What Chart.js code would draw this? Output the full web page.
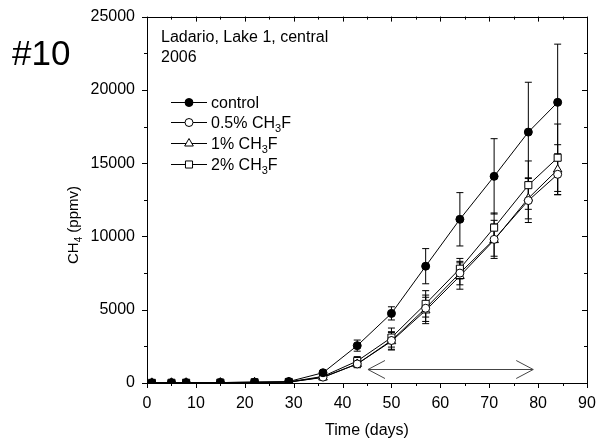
<!DOCTYPE html>
<html>
<head>
<meta charset="utf-8">
<script src="https://cdn.jsdelivr.net/npm/chart.js@4.4.0/dist/chart.umd.min.js"></script>
<style>
  html, body { margin: 0; padding: 0; background: #fff; }
</style>
</head>
<body>
<canvas id="c" width="598" height="441"></canvas>
<script>
// sampling days
const days = [1, 5, 8, 15, 22, 29, 36, 43, 50, 57, 64, 71, 78, 84];

// CH4 (ppmv)
const control   = [10, 15, 20, 30, 50, 100, 700, 2550, 4750, 7970, 11170, 14100, 17120, 19150];
const ch3f05    = [10, 15, 20, 30, 50, 60, 400, 1300, 2900, 5100, 7500, 9800, 12450, 14240];
const ch3f1     = [10, 15, 20, 30, 50, 60, 380, 1300, 2850, 4950, 7300, 9750, 12600, 14560];
const ch3f2     = [10, 15, 20, 30, 50, 70, 450, 1500, 3100, 5400, 7800, 10600, 13500, 15370];

// error bars (+/-)
const controlErr = [0, 0, 0, 0, 0, 30, 150, 380, 450, 1200, 1820, 2570, 3400, 3970];
const ch3f05Err  = [0, 0, 0, 0, 0, 20, 80, 250, 600, 900, 800, 1300, 1500, 1400];
const ch3f1Err   = [0, 0, 0, 0, 0, 20, 80, 250, 600, 900, 900, 1100, 1400, 1700];
const ch3f2Err   = [0, 0, 0, 0, 0, 20, 100, 300, 650, 900, 700, 1000, 1650, 2300];

const xTicks = [0, 10, 20, 30, 40, 50, 60, 70, 80, 90];
const yTicks = [0, 5000, 10000, 15000, 20000, 25000];

// treatment period arrow (days) and its height (ppmv)
const arrowFrom = 45.2, arrowTo = 79, arrowLevel = 950;

const FONT = '"Liberation Sans", Arial, sans-serif';

const series = [
  { name: 'control', sub: null, values: control, err: controlErr, style: 'circle', fill: '#000', r: 4 },
  { name: '0.5% CH', sub: '3', tail: 'F', values: ch3f05, err: ch3f05Err, style: 'circle', fill: '#fff', r: 4 },
  { name: '1% CH', sub: '3', tail: 'F', values: ch3f1, err: ch3f1Err, style: 'triangle', fill: '#fff', r: 5 },
  { name: '2% CH', sub: '3', tail: 'F', values: ch3f2, err: ch3f2Err, style: 'rect', fill: '#fff', r: 5 }
];

const toPoints = vals => days.map((d, i) => ({ x: d, y: vals[i] }));

function marker(ctx, style, x, y, r) {
  Chart.helpers.drawPoint(ctx, { pointStyle: style, radius: r, borderWidth: 1 }, x, y);
}

const extras = {
  id: 'extras',
  beforeDatasetsDraw(chart) {
    const { ctx, scales: { x, y } } = chart;
    ctx.save();
    ctx.strokeStyle = '#000';
    ctx.lineWidth = 1;
    series.forEach(s => {
      days.forEach((d, i) => {
        const e = s.err[i];
        if (!e) return;
        const px = x.getPixelForValue(d);
        const top = y.getPixelForValue(s.values[i] + e);
        const bot = y.getPixelForValue(Math.max(s.values[i] - e, 0));
        ctx.beginPath();
        ctx.moveTo(px, top); ctx.lineTo(px, bot);
        ctx.moveTo(px - 3.5, top); ctx.lineTo(px + 3.5, top);
        ctx.moveTo(px - 3.5, bot); ctx.lineTo(px + 3.5, bot);
        ctx.stroke();
      });
    });
    ctx.restore();
  },
  afterDraw(chart) {
    const { ctx, chartArea: a, scales: { x, y } } = chart;
    ctx.save();
    ctx.strokeStyle = '#000';
    ctx.lineWidth = 1;
    // frame
    ctx.strokeRect(Math.round(a.left) + 0.5, Math.round(a.top) + 0.5,
      Math.round(a.right - a.left), Math.round(a.bottom - a.top));
    // ticks
    ctx.beginPath();
    for (let v = 0; v <= 90; v += 5) {
      const px = Math.round(x.getPixelForValue(v)) + 0.5;
      const len = v % 10 === 0 ? 5 : 3;
      ctx.moveTo(px, a.bottom); ctx.lineTo(px, a.bottom + len);
      ctx.moveTo(px, a.top); ctx.lineTo(px, a.top + len);
    }
    for (let v = 0; v <= 25000; v += 2500) {
      const py = Math.round(y.getPixelForValue(v)) + 0.5;
      const len = v % 5000 === 0 ? 5 : 3;
      ctx.moveTo(a.left, py); ctx.lineTo(a.left - len, py);
      ctx.moveTo(a.right, py); ctx.lineTo(a.right - len, py);
    }
    ctx.stroke();

    // treatment arrow
    const ax0 = x.getPixelForValue(arrowFrom), ax1 = x.getPixelForValue(arrowTo);
    const ay = Math.round(y.getPixelForValue(arrowLevel)) + 0.5;
    ctx.strokeStyle = '#444';
    ctx.beginPath();
    ctx.moveTo(ax0, ay); ctx.lineTo(ax1, ay);
    ctx.moveTo(ax0 + 17, ay - 9); ctx.lineTo(ax0, ay); ctx.lineTo(ax0 + 17, ay + 9);
    ctx.moveTo(ax1 - 17, ay - 9); ctx.lineTo(ax1, ay); ctx.lineTo(ax1 - 17, ay + 9);
    ctx.stroke();

    // texts
    ctx.fillStyle = '#000';
    ctx.textBaseline = 'alphabetic';
    ctx.textAlign = 'left';
    ctx.font = '35px ' + FONT;
    ctx.fillText('#10', 12, 65);
    ctx.font = '16px ' + FONT;
    ctx.fillText('Ladario, Lake 1, central', 161, 42);
    ctx.fillText('2006', 161, 62);

    // y title with subscript
    ctx.save();
    ctx.translate(78, 225);
    ctx.rotate(-Math.PI / 2);
    ctx.font = '15px ' + FONT;
    const w1 = ctx.measureText('CH').width;
    ctx.font = '10px ' + FONT;
    const w2 = ctx.measureText('4').width;
    ctx.font = '15px ' + FONT;
    const w3 = ctx.measureText(' (ppmv)').width;
    let tx = -(w1 + w2 + w3) / 2;
    ctx.fillText('CH', tx, 0); tx += w1;
    ctx.font = '10px ' + FONT;
    ctx.fillText('4', tx, 4); tx += w2;
    ctx.font = '15px ' + FONT;
    ctx.fillText(' (ppmv)', tx, 0);
    ctx.restore();

    // legend
    const rows = [101.7, 122.3, 143, 163.7];
    series.forEach((s, i) => {
      const ry = rows[i];
      ctx.strokeStyle = '#000';
      ctx.beginPath();
      ctx.moveTo(171, Math.round(ry) + 0.5); ctx.lineTo(207, Math.round(ry) + 0.5);
      ctx.stroke();
      ctx.fillStyle = s.fill;
      marker(ctx, s.style, 189, Math.round(ry) + 0.5, s.r);
      ctx.fillStyle = '#000';
      ctx.font = '16px ' + FONT;
      let lx = 211;
      ctx.fillText(s.name, lx, ry + 6);
      if (s.sub) {
        lx += ctx.measureText(s.name).width;
        ctx.font = '11px ' + FONT;
        ctx.fillText(s.sub, lx, ry + 10);
        lx += ctx.measureText(s.sub).width;
        ctx.font = '16px ' + FONT;
        ctx.fillText(s.tail, lx, ry + 6);
      }
    });
    ctx.restore();
  }
};

new Chart(document.getElementById('c'), {
  type: 'line',
  data: {
    datasets: series.map(s => ({
      label: s.name,
      data: toPoints(s.values),
      borderColor: '#000',
      borderWidth: 1,
      backgroundColor: s.fill,
      pointStyle: s.style,
      pointRadius: s.r,
      pointBorderWidth: 1,
      pointBorderColor: '#000',
      pointBackgroundColor: s.fill,
      tension: 0
    }))
  },
  options: {
    responsive: false,
    animation: false,
    events: [],
    layout: { padding: { top: 16, right: 11, left: 0, bottom: 0 } },
    plugins: { legend: { display: false }, tooltip: { enabled: false } },
    scales: {
      x: {
        type: 'linear', min: 0, max: 90,
        afterBuildTicks: s => { s.ticks = xTicks.map(v => ({ value: v })); },
        afterFit: s => { s.height = 58; },
        grid: { display: false, drawTicks: true, tickLength: 11 },
        border: { display: false },
        ticks: { color: '#000', font: { family: FONT, size: 16 }, padding: 0, maxRotation: 0,
                 callback: v => String(v) },
        title: { display: true, text: 'Time (days)', color: '#000',
                 font: { family: FONT, size: 16 }, padding: { top: 0, bottom: 1 } }
      },
      y: {
        type: 'linear', min: 0, max: 25000,
        afterBuildTicks: s => { s.ticks = yTicks.map(v => ({ value: v })); },
        afterFit: s => { s.width = 147; },
        grid: { display: false, drawTicks: true, tickLength: 5 },
        border: { display: false },
        ticks: { color: '#000', font: { family: FONT, size: 16 }, padding: 7,
                 callback: v => String(v) }
      }
    }
  },
  plugins: [extras]
});
</script>
</body>
</html>
